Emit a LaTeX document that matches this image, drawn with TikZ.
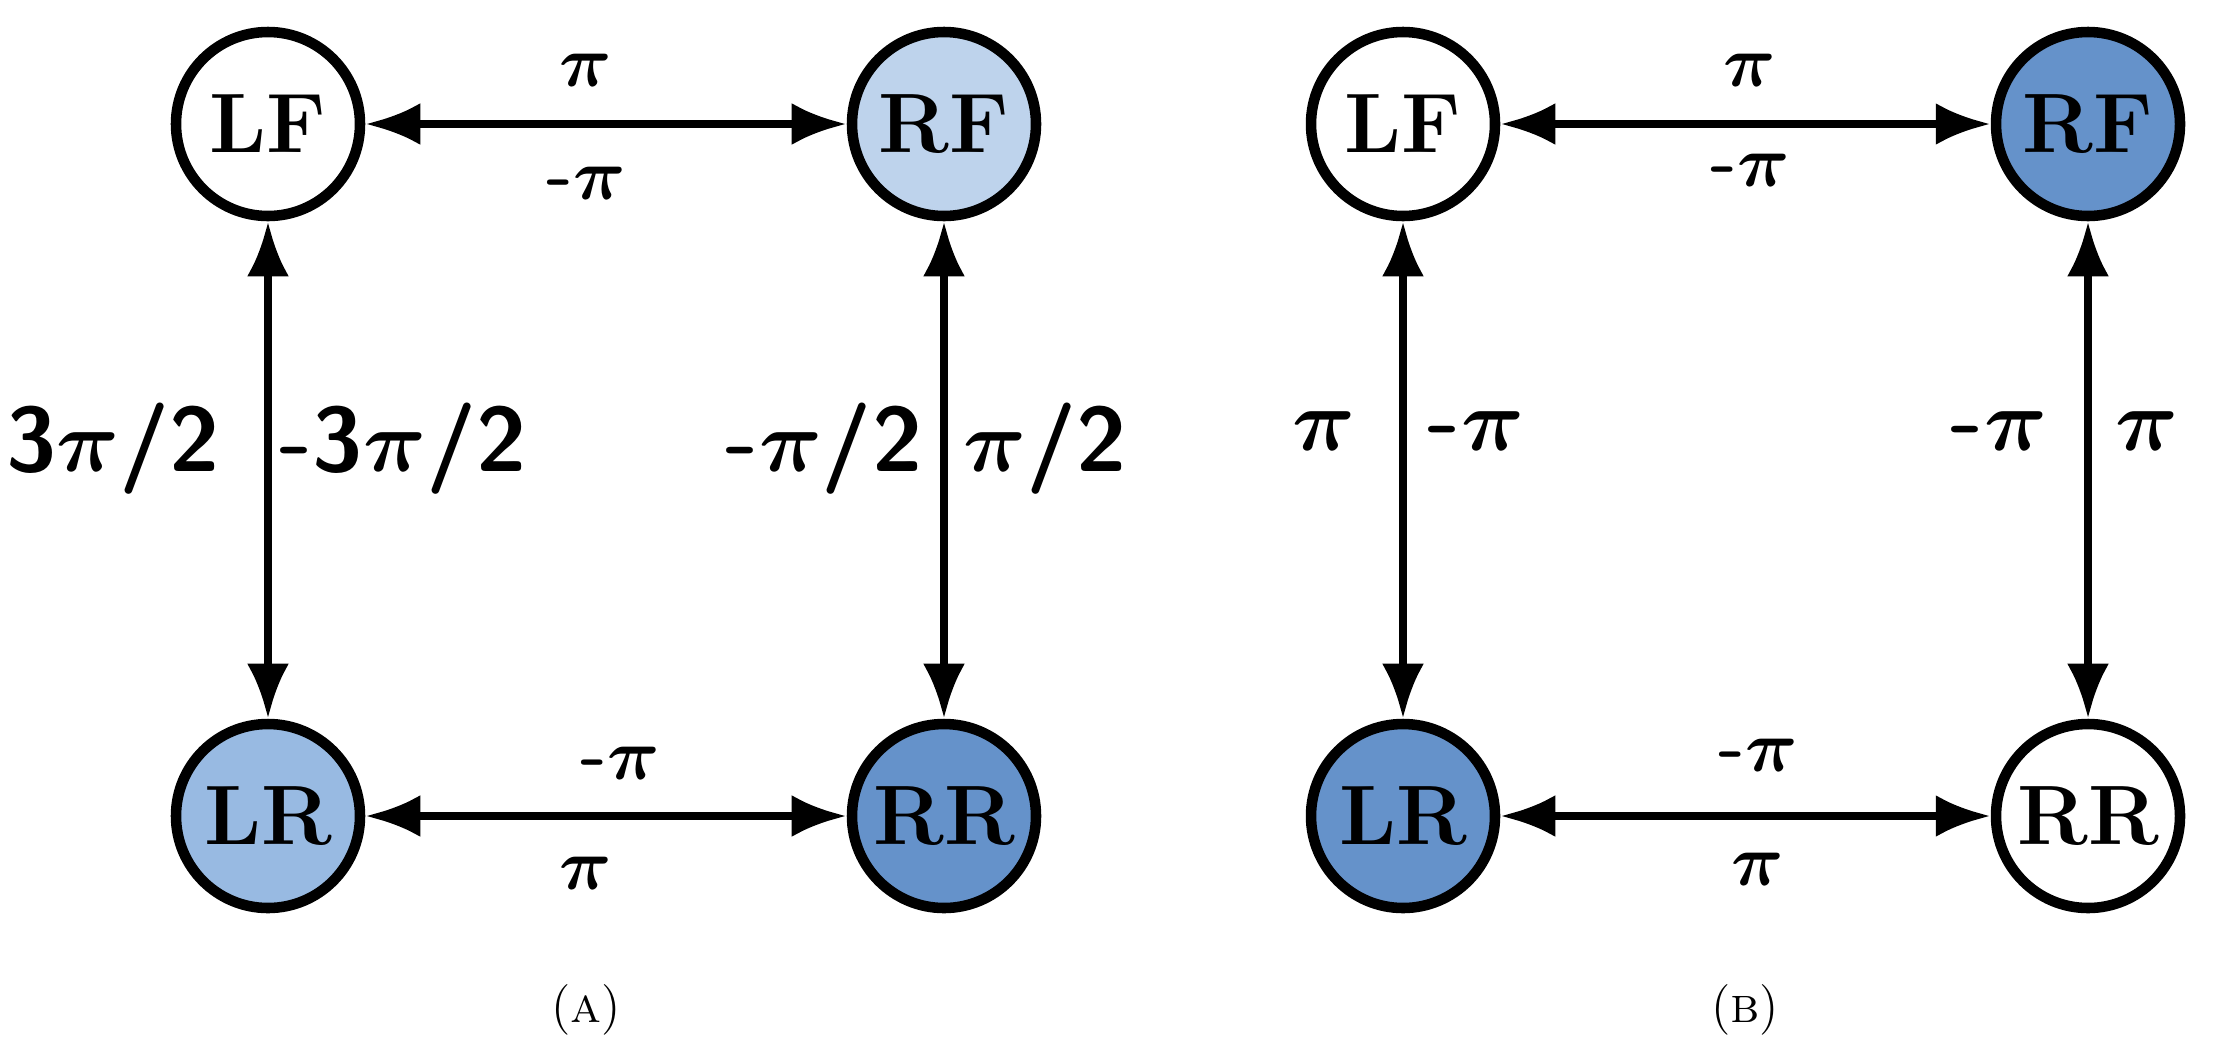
\documentclass[tikz,border=0pt]{standalone}
\usepackage{amsmath}
\usepackage{amssymb}
\usepackage{bm}
\usetikzlibrary{arrows.meta}
\definecolor{paleblue}{RGB}{190,211,236}
\definecolor{midblue}{RGB}{152,186,226}
\definecolor{deepblue}{RGB}{101,146,202}
\tikzset{
    leg/.style={circle, draw, line width=3pt, minimum size=1.84cm, inner sep=0pt,
        font=\fontsize{24}{26}\selectfont\bfseries},
    link/.style={line width=2.4pt, {Latex[length=0.55cm,width=0.42cm]}-{Latex[length=0.55cm,width=0.42cm]}},
    phase/.style={font=\fontsize{21}{23}\selectfont\sffamily\bfseries},
    bigphase/.style={font=\fontsize{26}{28}\selectfont\sffamily\bfseries},
}
\newcommand{\bp}{$\bm{\pi}$}
\begin{document}
\begin{tikzpicture}
    \useasboundingbox (0,0) rectangle (22.15,10.55);
    % Panel A
    \node[leg] (lfA) at (2.68, 9.31) {LF};
    \node[leg, fill=paleblue] (rfA) at (9.44, 9.31) {RF};
    \node[leg, fill=midblue] (lrA) at (2.68, 2.39) {LR};
    \node[leg, fill=deepblue] (rrA) at (9.44, 2.39) {RR};
    \draw[link] (lfA) -- (rfA);
    \draw[link] (lfA) -- (lrA);
    \draw[link] (rfA) -- (rrA);
    \draw[link] (lrA) -- (rrA);
    \node[phase] at (5.86, 9.85) {\bp};
    \node[phase] at (5.86, 8.72) {-\bp};
    \node[bigphase] at (1.13, 6.06) {3\bp/2};
    \node[bigphase] at (4.03, 6.06) {-3\bp/2};
    \node[bigphase] at (8.24, 6.06) {-\bp/2};
    \node[bigphase] at (10.45, 6.06) {\bp/2};
    \node[phase] at (6.2, 2.92) {-\bp};
    \node[phase] at (5.86, 1.82) {\bp};
    \node[font=\Large] at (5.86, 0.45) {(\textsc{a})};

    % Panel B
    \node[leg] (lfB) at (14.03, 9.31) {LF};
    \node[leg, fill=deepblue] (rfB) at (20.88, 9.31) {RF};
    \node[leg, fill=deepblue] (lrB) at (14.03, 2.39) {LR};
    \node[leg] (rrB) at (20.88, 2.39) {RR};
    \draw[link] (lfB) -- (rfB);
    \draw[link] (lfB) -- (lrB);
    \draw[link] (rfB) -- (rrB);
    \draw[link] (lrB) -- (rrB);
    \node[phase] at (17.5, 9.85) {\bp};
    \node[phase] at (17.5, 8.85) {-\bp};
    \node[bigphase] at (13.24, 6.24) {\bp};
    \node[bigphase] at (14.76, 6.24) {-\bp};
    \node[bigphase] at (19.99, 6.24) {-\bp};
    \node[bigphase] at (21.47, 6.24) {\bp};
    \node[phase] at (17.58, 3.0) {-\bp};
    \node[phase] at (17.58, 1.86) {\bp};
    \node[font=\Large] at (17.45, 0.45) {(\textsc{b})};
\end{tikzpicture}
\end{document}
